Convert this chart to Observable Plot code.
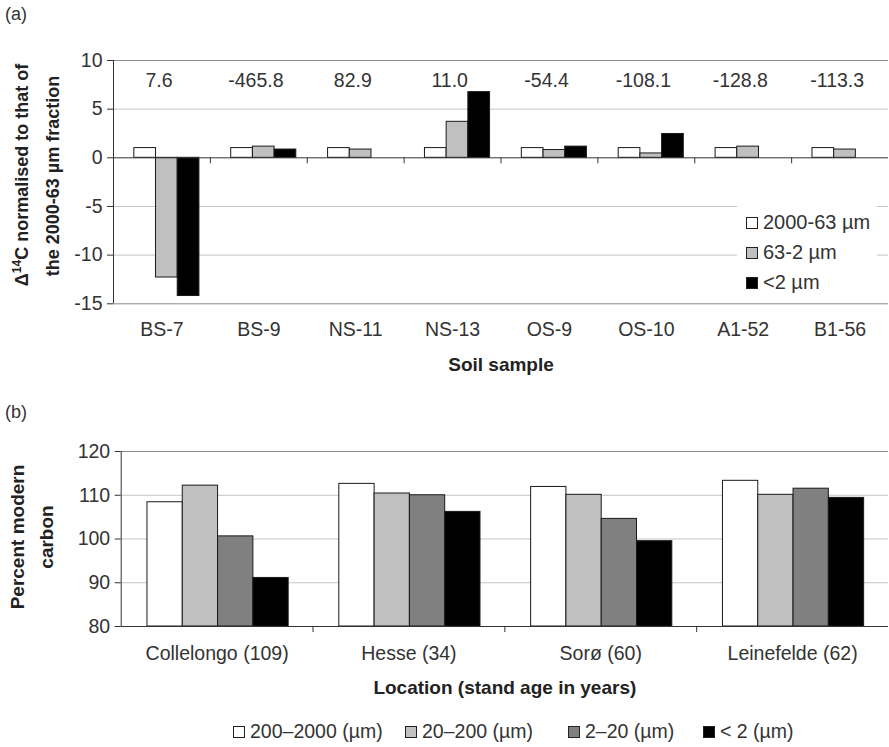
<!DOCTYPE html>
<html><head><meta charset="utf-8">
<script src="https://cdn.jsdelivr.net/npm/d3@7"></script>
<script src="https://cdn.jsdelivr.net/npm/@observablehq/plot@0.6"></script>
<style>
body{margin:0;background:#fff;font-family:Arial,"Liberation Sans",sans-serif;}
#wrap{position:relative;width:889px;height:747px;overflow:hidden;background:#fff}
.panel{position:absolute;left:0}
.plab{position:absolute;font-size:18px;color:#333}
.ylab{position:absolute;font-weight:bold;color:#222;white-space:nowrap;transform:translate(-50%,-50%) rotate(-90deg);}
.leg{position:absolute;color:#333;white-space:nowrap;display:flex;align-items:center}
.sw{display:inline-block;width:10px;height:10px;border:1px solid #222;margin-right:5px}
#legA{position:absolute;left:737px;top:203px;width:140px;height:94px;background:#fff}
</style></head><body><div id="wrap"></div>
<script>
// ---- Panel (a) data ----
const samples = ["BS-7","BS-9","NS-11","NS-13","OS-9","OS-10","A1-52","B1-56"];
const d14c = ["7.6","-465.8","82.9","11.0","-54.4","-108.1","-128.8","-113.3"];
const fracA = ["2000-63 µm","63-2 µm","<2 µm"];
const a2000_63 = [1,1,1,1,1,1,1,1];
const a63_2 = [-12.3,1.15,0.85,3.7,0.8,0.45,1.15,0.85];
const aLt2 = [-14.2,0.85,null,6.75,1.15,2.45,null,null];
const yTicksA = [-15,-10,-5,0,5,10];
const colorsA = ["#ffffff","#c0c0c0","#000000"];

// ---- Panel (b) data ----
const locations = ["Collelongo (109)","Hesse (34)","Sorø (60)","Leinefelde (62)"];
const fracB = ["200–2000 (µm)","20–200 (µm)","2–20 (µm)","< 2 (µm)"];
const b200_2000 = [108.4,112.6,111.9,113.3];
const b20_200 = [112.2,110.4,110.1,110.1];
const b2_20 = [100.6,110.0,104.6,111.5];
const bLt2 = [91.1,106.2,99.5,109.4];
const yTicksB = [80,90,100,110,120];
const colorsB = ["#ffffff","#c0c0c0","#808080","#000000"];

const wrap = document.getElementById("wrap");
const font = "Arial, 'Liberation Sans', sans-serif";
const TICK = 19.5, TITLE = 19;

function rows(cats, seriesArrays, names){
  const out = [];
  cats.forEach((c,i)=>seriesArrays.forEach((arr,j)=>{
    if(arr[i]!=null) out.push({i, j, cat:c, series:names[j], value:arr[i]});
  }));
  return out;
}

// ---------- Panel (a) ----------
const rowsA = rows(samples,[a2000_63,a63_2,aLt2],fracA);
const gA = {start:0.215, w:0.224};
const plotA = Plot.plot({
  width:889, height:390, marginTop:60, marginBottom:86.7, marginLeft:113, marginRight:1,
  x:{domain:[0,samples.length], axis:null},
  y:{domain:[-15,10], axis:null},
  color:{domain:fracA, range:colorsA},
  style:{fontFamily:font, fontSize:TICK+"px", color:"#333", background:"transparent", overflow:"visible"},
  marks:[
    Plot.ruleY([5,-5,-10], {stroke:"#c4c4c4"}),
    Plot.ruleY([10,-15], {stroke:"#8a8a8a"}),
    Plot.rectY(rowsA, {x1:d=>d.i+gA.start+d.j*gA.w, x2:d=>d.i+gA.start+(d.j+1)*gA.w, y1:0, y2:"value", fill:"series", stroke:"#1a1a1a", strokeWidth:1}),
    Plot.ruleY([0], {stroke:"#333"}),
    Plot.ruleX(d3.range(1, samples.length), {y1:0, y2:0, insetBottom:-6, stroke:"#333"}),
    Plot.ruleX([0], {stroke:"#333"}),
    Plot.ruleY(yTicksA, {x1:0, x2:0, insetLeft:-6, stroke:"#333"}),
    Plot.text(yTicksA, {x:0, y:d=>d, text:d=>String(d), dx:-11, textAnchor:"end", fontSize:TICK, fill:"#333"}),
    Plot.text(samples, {x:(d,i)=>i+0.5, frameAnchor:"bottom", dy:32, text:d=>d, fontSize:TICK, fill:"#333"}),
    Plot.text(d14c, {x:(d,i)=>i+0.47, frameAnchor:"top", dy:13, text:d=>d, fontSize:TICK, fill:"#333"}),
    Plot.text(["Soil sample"], {frameAnchor:"bottom", dy:67, text:d=>d, fontWeight:"bold", fontSize:TITLE, fill:"#222"})
  ]
});
plotA.classList.add("panel"); plotA.style.top = "0px";
wrap.appendChild(plotA);

// ---------- Panel (b) ----------
const rowsB = rows(locations,[b200_2000,b20_200,b2_20,bLt2],fracB);
const gB = {start:0.137, w:0.184};
const plotB = Plot.plot({
  width:889, height:320, marginTop:61, marginBottom:84, marginLeft:120.7, marginRight:1,
  x:{domain:[0,locations.length], axis:null},
  y:{domain:[80,120], axis:null},
  color:{domain:fracB, range:colorsB},
  style:{fontFamily:font, fontSize:TICK+"px", color:"#333", background:"transparent", overflow:"visible"},
  marks:[
    Plot.ruleY([90,100,110], {stroke:"#c4c4c4"}),
    Plot.ruleY([120], {stroke:"#8a8a8a"}),
    Plot.rectY(rowsB, {x1:d=>d.i+gB.start+d.j*gB.w, x2:d=>d.i+gB.start+(d.j+1)*gB.w, y1:80, y2:"value", fill:"series", stroke:"#1a1a1a", strokeWidth:1}),
    Plot.ruleY([80], {stroke:"#333"}),
    Plot.ruleX(d3.range(1, locations.length), {y1:80, y2:80, insetBottom:-6, stroke:"#333"}),
    Plot.ruleX([0], {stroke:"#333"}),
    Plot.ruleY(yTicksB, {x1:0, x2:0, insetLeft:-6, stroke:"#333"}),
    Plot.text(yTicksB, {x:0, y:d=>d, text:d=>String(d), dx:-11, textAnchor:"end", fontSize:TICK, fill:"#333"}),
    Plot.text(locations, {x:(d,i)=>i+0.5, frameAnchor:"bottom", dy:33, text:d=>d, fontSize:TICK, fill:"#333"}),
    Plot.text(["Location (stand age in years)"], {frameAnchor:"bottom", dy:67, text:d=>d, fontWeight:"bold", fontSize:TITLE, fill:"#222"})
  ]
});
plotB.classList.add("panel"); plotB.style.top = "390px";
wrap.appendChild(plotB);

// ---------- panel letters & y titles ----------
function addDiv(cls, html, css){
  const d = document.createElement("div"); d.className = cls; d.innerHTML = html;
  Object.assign(d.style, css); wrap.appendChild(d); return d;
}
addDiv("plab","(a)",{left:"5px",top:"4px"});
addDiv("plab","(b)",{left:"5px",top:"402px"});
addDiv("ylab","Δ<sup style='font-size:12px'>14</sup>C normalised to that of",{left:"21px",top:"175px",fontSize:"18px"});
addDiv("ylab","the 2000-63 µm fraction",{left:"53px",top:"176px",fontSize:"18px"});
addDiv("ylab","Percent modern",{left:"18px",top:"537px",fontSize:"19px"});
addDiv("ylab","carbon",{left:"47px",top:"537px",fontSize:"19px"});

// ---------- legend (a) ----------
const legA = addDiv("", "", {}); legA.id = "legA";
fracA.forEach((n,j)=>{
  const it = document.createElement("div"); it.className = "leg";
  Object.assign(it.style,{left:"9px", top:(8+j*30)+"px", fontSize:"20px"});
  it.innerHTML = `<span class="sw" style="background:${colorsA[j]}"></span>${n}`;
  legA.appendChild(it);
});

// ---------- legend (b) ----------
const legBx = [233,405,568,703];
fracB.forEach((n,j)=>{
  addDiv("leg", `<span class="sw" style="background:${colorsB[j]}"></span>${n}`, {left:legBx[j]+"px", top:"720px", fontSize:"19.5px"});
});
</script></body></html>
